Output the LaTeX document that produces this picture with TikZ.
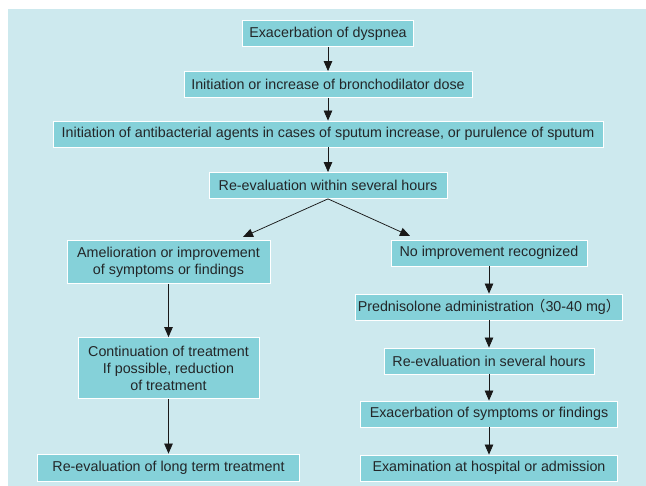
\documentclass[tikz,border=0pt]{standalone}
\usepackage{fontspec}
\setmainfont{Liberation Sans}
\newfontfamily\cjkfont{Noto Sans CJK SC}
\usetikzlibrary{arrows.meta}
\definecolor{panel}{RGB}{205,233,238}
\definecolor{boxfill}{RGB}{133,209,217}
\definecolor{ink}{RGB}{35,38,40}

\begin{document}
\begin{tikzpicture}
    [
    x=1pt,y=-1pt,
    box/.style={draw=white,fill=boxfill,line width=0.8pt,inner sep=0pt,minimum height=26pt,align=center,text=ink,font=\fontsize{14.3}{17}\selectfont},
    arr/.style={-{Triangle[length=10pt,width=8.5pt]},line width=0.75pt,draw=black!90},
    ]
    \useasboundingbox (0,0) rectangle (646,486);
    \fill [panel] (8,9) rectangle (646,486);
    \node (1) at (328,33.5) [box,minimum width=171pt] {Exacerbation of dyspnea};
    \node (2) at (328,84.5) [box,minimum width=288pt] {Initiation or increase of bronchodilator dose};
    \node (3) at (328,134) [box,minimum width=550pt] {Initiation of antibacterial agents in cases of sputum increase, or purulence of sputum};
    \node (4) at (328,185.5) [box,minimum width=238pt] {Re-evaluation within several hours};
    \node (a1) at (168.5,262) [box,minimum width=203pt,minimum height=43pt] {Amelioration or improvement\\of symptoms or findings};
    \node (a2) at (168.5,368) [box,minimum width=181pt,minimum height=61pt] {Continuation of treatment\\If possible, reduction\\of treatment};
    \node (a3) at (168.5,467.5) [box,minimum width=262pt,minimum height=27pt] {Re-evaluation of long term treatment};
    \node (b1) at (489,253) [box,minimum width=196pt] {No improvement recognized};
    \node (b2) at (489,307) [box,minimum width=267pt] {Prednisolone administration\hspace{-3pt}{\cjkfont （}30-40 mg{\cjkfont ）}};
    \node (b3) at (489,361) [box,minimum width=210pt] {Re-evaluation in several hours};
    \node (b4) at (489,414) [box,minimum width=257pt] {Exacerbation of symptoms or findings};
    \node (b5) at (489,468) [box,minimum width=257pt] {Examination at hospital or admission};
    \coordinate (l) at (243,237);
    \coordinate (r) at (410,236);
    \draw [arr] (1) -- (2);
    \draw [arr] (2) -- (3);
    \draw [arr] (3) -- (4);
    \draw [arr] (4.south) -- (l);
    \draw [arr] (4.south) -- (r);
    \draw [arr] (a1) -- (a2);
    \draw [arr] (a2) -- (a3);
    \draw [arr] (b1) -- (b2);
    \draw [arr] (b2) -- (b3);
    \draw [arr] (b3) -- (b4);
    \draw [arr] (b4) -- (b5);
  \end{tikzpicture}
\end{document}
